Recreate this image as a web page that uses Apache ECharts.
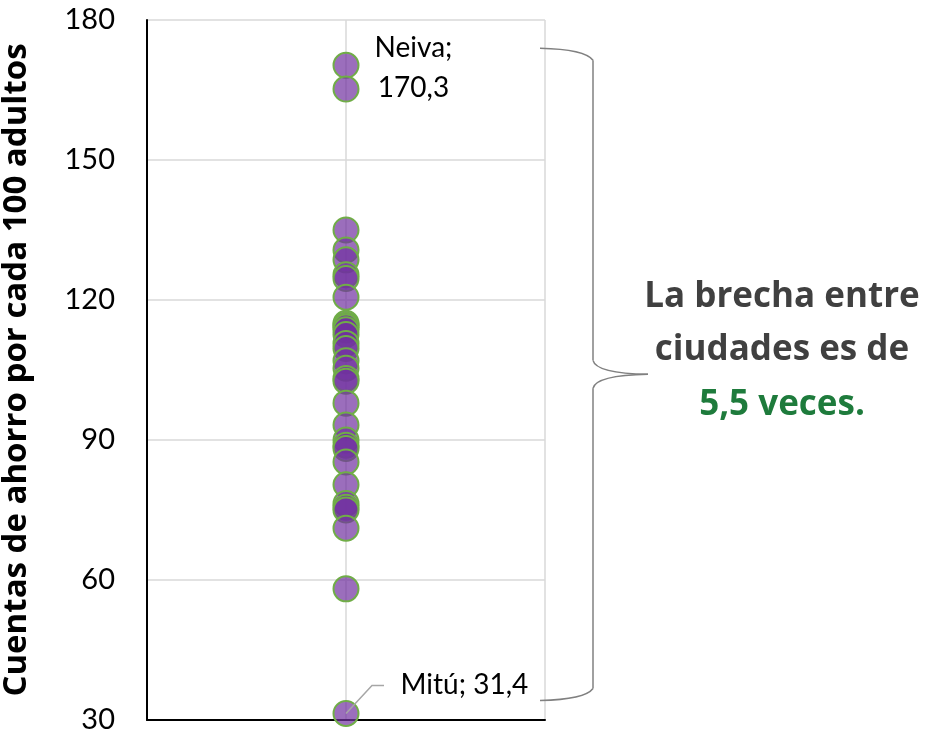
<!DOCTYPE html>
<html><head><meta charset="utf-8">
<script src="https://cdn.jsdelivr.net/npm/echarts@6/dist/echarts.min.js"></script>
<style>html,body{margin:0;padding:0;background:#fff}#c{width:925px;height:731px}</style>
</head><body><div id="c"></div>
<script>
// Cuentas de ahorro por cada 100 adultos, por ciudad
const values = [170.3, 165.2, 135.0, 130.7, 128.6, 125.4, 124.6, 120.6, 115.0, 114.6, 114.2, 113.6, 112.6,
  110.7, 109.6, 107.0, 105.4, 103.2, 102.6, 97.9, 93.2, 90.0, 88.9, 88.2, 85.3, 80.4, 76.4, 75.6, 75.0,
  71.1, 58.1, 31.4];
const labeledNames = ['Neiva', 'Mitú'];
const labeledValues = [170.3, 31.4];
const yAxisTitle = 'Cuentas de ahorro por cada 100 adultos';
const calloutLines = ['La brecha entre', 'ciudades es de'];
const calloutHighlight = '5,5 veces.';

const fmt = v => String(v).replace('.', ',');
const chart = echarts.init(document.getElementById('c'));

const data = values.map(v => {
  const i = labeledValues.indexOf(v);
  const item = { value: [1, v] };
  if (i === 0) {
    item.name = labeledNames[i];
    item.label = { show: true, formatter: labeledNames[i] + ';\n' + fmt(v), position: [81, 16],
      align: 'center', verticalAlign: 'middle', lineHeight: 40 };
  } else if (i === 1) {
    item.name = labeledNames[i];
    item.label = { show: true, formatter: labeledNames[i] + '; ' + fmt(v), position: [68, -15],
      align: 'left', verticalAlign: 'middle' };
  }
  return item;
});

chart.setOption({
  animation: false,
  grid: { left: 147, right: 380, top: 20, bottom: 11, outerBoundsMode: 'none', containLabel: false },
  xAxis: {
    type: 'value', min: 0, max: 2, interval: 1,
    axisLine: { show: true, lineStyle: { color: '#000', width: 2 } },
    axisTick: { show: false }, axisLabel: { show: false },
    splitLine: { show: true, lineStyle: { color: '#D9D9D9', width: 1.5 } }
  },
  yAxis: {
    type: 'value', min: 30, max: 180, interval: 30,
    name: yAxisTitle, nameLocation: 'middle', nameRotate: 90, nameGap: 114,
    nameTextStyle: { fontFamily: 'Open Sans', fontWeight: 'bold', fontSize: 33, color: '#000' },
    axisLine: { show: true, lineStyle: { color: '#000', width: 2 } },
    axisTick: { show: false },
    axisLabel: { fontFamily: 'Lato', fontSize: 29, color: '#000', margin: 32 },
    splitLine: { show: true, lineStyle: { color: '#D9D9D9', width: 1.5 } }
  },
  series: [{
    type: 'scatter', symbolSize: 25, data: data,
    itemStyle: { color: 'rgba(112,48,160,0.7)', borderColor: '#70AD47', borderWidth: 2, opacity: 1 },
    label: { fontFamily: 'Lato', fontSize: 28, color: '#000' },
    z: 3
  }]
});

const maxV = Math.max(...values), minV = Math.min(...values);
const pTop = chart.convertToPixel({ gridIndex: 0 }, [2, maxV]);
const pBot = chart.convertToPixel({ gridIndex: 0 }, [2, minV]);
const pMin = chart.convertToPixel({ gridIndex: 0 }, [1, minV]);
const x0 = pTop[0] - 5, xv = x0 + 53, xt = xv + 55;
const yT = pTop[1] - 17, yB = pBot[1] - 13, yM = (yT + yB) / 2;
const braceStyle = { stroke: '#808080', lineWidth: 1.5, fill: null };
const cx = 782;
const calloutFont = 'bold 35px "Open Sans"';

chart.setOption({
  graphic: [
    { type: 'bezierCurve', shape: { x1: x0, y1: yT, cpx1: xv - 8, cpy1: yT + 1, x2: xv, y2: yT + 12 }, style: braceStyle, z: 10 },
    { type: 'line', shape: { x1: xv, y1: yT + 12, x2: xv, y2: yM - 14 }, style: braceStyle, z: 10 },
    { type: 'bezierCurve', shape: { x1: xv, y1: yM - 14, cpx1: xv + 3, cpy1: yM - 1, x2: xt, y2: yM }, style: braceStyle, z: 10 },
    { type: 'bezierCurve', shape: { x1: xt, y1: yM, cpx1: xv + 3, cpy1: yM + 1, x2: xv, y2: yM + 14 }, style: braceStyle, z: 10 },
    { type: 'line', shape: { x1: xv, y1: yM + 14, x2: xv, y2: yB - 12 }, style: braceStyle, z: 10 },
    { type: 'bezierCurve', shape: { x1: xv, y1: yB - 12, cpx1: xv - 8, cpy1: yB - 1, x2: x0, y2: yB }, style: braceStyle, z: 10 },
    { type: 'polyline', shape: { points: [[pMin[0], pMin[1]], [pMin[0] + 26, pMin[1] - 28], [pMin[0] + 38, pMin[1] - 28]] },
      style: { stroke: '#A6A6A6', lineWidth: 1.5, fill: null }, z: 10 },
    { type: 'text', x: cx, y: 297, style: { text: calloutLines[0], font: calloutFont, fill: '#404040', textAlign: 'center', textVerticalAlign: 'middle' }, z: 10 },
    { type: 'text', x: cx, y: 350, style: { text: calloutLines[1], font: calloutFont, fill: '#404040', textAlign: 'center', textVerticalAlign: 'middle' }, z: 10 },
    { type: 'text', x: cx, y: 405, style: { text: calloutHighlight, font: calloutFont, fill: '#1E7B3C', textAlign: 'center', textVerticalAlign: 'middle' }, z: 10 }
  ]
});
</script>
</body></html>
